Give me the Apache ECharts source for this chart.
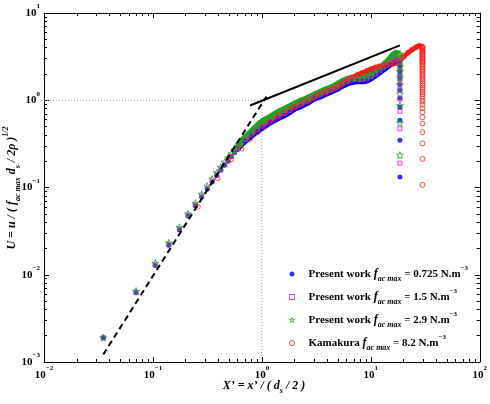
<!DOCTYPE html>
<html>
<head>
<meta charset="utf-8">
<script src="https://cdn.jsdelivr.net/npm/echarts@6/dist/echarts.min.js"></script>
<style>html,body{margin:0;padding:0;background:#fff}#main{width:490px;height:404px}</style>
</head>
<body>
<div id="main"></div>
<script>
// ---- data ----
const xEarly = [0.035,0.07,0.105,0.14,0.175,0.21,0.245,0.28,0.315,0.35,0.385,0.42,0.455,0.49,0.525,0.56,0.595];
const blueEarly = [0.0019,0.0062,0.0128,0.0218,0.0327,0.047,0.0617,0.078,0.096,0.1156,0.137,0.158,0.18,0.20,0.225,0.25,0.27];
const magentaEarly = [0.0019,0.0063,0.013,0.0222,0.0334,0.048,0.063,0.080,0.098,0.118,0.14,0.162,0.184,0.205,0.23,0.256,0.277];
const greenEarly = [0.0019,0.0065,0.0136,0.0232,0.035,0.050,0.066,0.084,0.104,0.125,0.148,0.171,0.196,0.22,0.245,0.27,0.295];

const xBand = [0.6,0.7,0.8,0.9,1.0,1.2,1.4,1.6,1.8,2.0,2.3,2.6,3.0,3.4,3.8,4.3,4.8,5.4,6.0,6.7,7.5,8.3,9.2,10,11,12,13,14,15,16,17,18];
const blueBand = [0.28,0.34,0.39,0.44,0.48,0.56,0.62,0.67,0.73,0.80,0.86,0.93,1.04,1.10,1.17,1.25,1.33,1.45,1.55,1.62,1.65,1.65,1.68,1.78,1.92,2.08,2.24,2.40,2.55,2.68,2.78,2.85];
const magentaBand = [0.29,0.355,0.41,0.46,0.51,0.59,0.66,0.71,0.77,0.84,0.91,0.98,1.09,1.16,1.23,1.31,1.40,1.53,1.63,1.70,1.72,1.72,1.76,1.86,2.0,2.17,2.35,2.54,2.72,2.88,3.0,3.05];
const greenBand = [0.30,0.37,0.43,0.50,0.56,0.64,0.72,0.78,0.84,0.90,0.98,1.04,1.14,1.22,1.30,1.38,1.48,1.62,1.72,1.78,1.80,1.80,1.85,1.95,2.10,2.28,2.48,2.72,2.98,3.25,3.45,3.35];

const dropX = 18.5;
const blueDrop = [0.132,0.348,0.59,0.83,1.06,1.29,1.52,1.75,1.98,2.21,2.44,2.67];
const magentaDrop = [0.19,0.47,0.75,1.03,1.31,1.59,1.87,2.15,2.43,2.71,2.99];
const greenDrop = [0.235,0.55,0.87,1.18,1.5,1.82,2.14,2.46,2.78,3.1,3.4];

const redX = [0.258,0.393,0.52,0.65,0.78,0.91,1.04,1.17,1.3,1.45,1.6,1.75,1.9,2.05,2.2,2.4,2.6,2.8,3.0,3.25,3.5,3.75,4.0,4.3,4.6,4.9,5.2];
const redY = [0.060,0.128,0.21,0.28,0.36,0.43,0.50,0.56,0.61,0.67,0.72,0.77,0.81,0.85,0.89,0.94,0.98,1.03,1.08,1.14,1.19,1.23,1.27,1.32,1.37,1.42,1.48];
const redBandX = [5.5,6.0,6.7,7.5,8.3,9.2,10,11,12,13,14,15,16,17,18,20,22,24,26,27.9,29.3];
const redBandY = [1.55,1.68,1.82,1.95,2.06,2.17,2.27,2.37,2.45,2.5,2.54,2.57,2.62,2.68,2.8,3.15,3.5,3.8,4.05,4.2,4.1];
const redDropX = 29.8;
const redDrop = [0.107,0.213,0.32,0.43,0.54,0.64,0.73,0.81,0.89,0.97,1.04,1.11,1.18,1.25,1.32,1.39,1.47,1.55,1.64,1.72,1.8,1.9,2.0,2.1,2.2,2.3,2.4,2.5,2.6,2.7,2.8,2.9,3.0,3.1,3.2,3.3,3.4,3.5,3.6,3.7,3.8,3.9,4.0,4.1];

const fitSteepX = [0.035, 1.1];
const fitSteepY = [0.00122, 1.1];
const fitShallowX = [0.78, 18.5];
const fitShallowY = [0.87, 4.25];
const refHX = [0.01, 1];
const refHY = [1, 1];
const refVX = [1, 1];
const refVY = [0.001, 1];

const legendKeys = ['s1','s2','s3','s4'];
const legendLabels = ['Present work','Present work','Present work','Kamakura'];
const legendValues = ['0.725','1.5','2.9','8.2'];

const xMajor = [0.01,0.1,1,10,100];
const yMajor = [0.001,0.01,0.1,1,10];
const minorMult = [2,3,4,5,6,7,8,9];

// ---- helpers ----
const zip = (xs, ys) => xs.map((x, i) => [x, ys[i]]);
const col = (x, ys) => ys.map(y => [x, y]);
const minorsOf = majors => {
  const out = [];
  majors.slice(0, -1).forEach(d => minorMult.forEach(m => out.push(+(d * m).toPrecision(6))));
  return out;
};
const SERIF = 'Liberation Serif';
const expLabel = v => {
  const e = Math.round(Math.log10(v));
  return '{b|10}{e|' + (e < 0 ? '\u2212' + (-e) : e) + '}';
};
const labelRich = {
  b: {fontFamily: SERIF, fontWeight: 'bold', fontSize: 11, lineHeight: 20, color: '#000'},
  e: {fontFamily: SERIF, fontWeight: 'bold', fontSize: 7, lineHeight: 8, verticalAlign: 'top', color: '#000'}
};
const starPath = 'path://M10 0 L12.35 6.76 L19.51 6.91 L13.80 11.24 L15.88 18.09 L10 14 L4.12 18.09 L6.20 11.24 L0.49 6.91 L7.65 6.76 Z';

const BLUE = '#0000ee', MAG = '#ff00ff', GREEN = '#1ea51e', RED = '#ff1a1a';

function xAx(pos, minor, labels) {
  return {
    type: 'log', logBase: 10, min: 0.01, max: 100, position: pos, gridIndex: 0,
    axisLine: {show: !minor, onZero: false, lineStyle: {color: '#000', width: 1}},
    axisTick: minor ? {show: true, inside: true, length: 3, customValues: minorsOf(xMajor), lineStyle: {color: '#000'}}
                    : {show: true, inside: true, length: 5, lineStyle: {color: '#000'}},
    axisLabel: labels ? {show: true, formatter: expLabel, rich: labelRich, margin: 3} : {show: false},
    splitLine: {show: false}, minorTick: {show: false}
  };
}
function yAx(pos, minor, labels) {
  return {
    type: 'log', logBase: 10, min: 0.001, max: 10, position: pos, gridIndex: 0,
    axisLine: {show: !minor, onZero: false, lineStyle: {color: '#000', width: 1}},
    axisTick: minor ? {show: true, inside: true, length: 3, customValues: minorsOf(yMajor), lineStyle: {color: '#000'}}
                    : {show: true, inside: true, length: 5, lineStyle: {color: '#000'}},
    axisLabel: labels ? {show: true, formatter: expLabel, rich: labelRich, margin: 4} : {show: false},
    splitLine: {show: false}, minorTick: {show: false}
  };
}

const chart = echarts.init(document.getElementById('main'), null, {renderer: 'canvas'});

const bandLine = (data, color, w) => ({
  type: 'line', data, xAxisIndex: 0, yAxisIndex: 0, smooth: 0.3, showSymbol: false, symbol: 'none',
  lineStyle: {color, width: w}, silent: true, z: 2
});
const refLine = (xs, ys, style, z) => ({
  type: 'line', data: zip(xs, ys), xAxisIndex: 0, yAxisIndex: 0, showSymbol: false, symbol: 'none',
  lineStyle: style, silent: true, z
});

const option = {
  animation: false,
  backgroundColor: '#fff',
  grid: {left: 44, right: 8, top: 13, bottom: 42, containLabel: false},
  xAxis: [xAx('bottom', false, true), xAx('bottom', true, false), xAx('top', false, false), xAx('top', true, false)],
  yAxis: [yAx('left', false, true), yAx('left', true, false), yAx('right', false, false), yAx('right', true, false)],
  legend: {
    orient: 'vertical', left: 284, top: 260, itemWidth: 5, itemHeight: 5, itemGap: 5,
    data: [
      {name: 's1', icon: 'circle', itemStyle: {color: BLUE, borderWidth: 0}},
      {name: 's2', icon: 'rect', itemStyle: {color: 'rgba(0,0,0,0)', borderColor: MAG, borderWidth: 1}},
      {name: 's3', icon: starPath, itemStyle: {color: 'rgba(0,0,0,0)', borderColor: GREEN, borderWidth: 1}},
      {name: 's4', icon: 'circle', itemStyle: {color: 'rgba(0,0,0,0)', borderColor: RED, borderWidth: 1}}
    ],
    formatter: name => {
      const i = legendKeys.indexOf(name);
      return '{t0|' + legendLabels[i] + ' }{f|f}{s|ac max}{t| = ' + legendValues[i] + ' N.m}{p|\u22123}';
    },
    textStyle: {
      color: '#000',
      rich: {
        t0: {fontFamily: SERIF, fontWeight: 'bold', fontSize: 11, lineHeight: 18, color: '#000', padding: [0, 0, 0, 9]},
        t: {fontFamily: SERIF, fontWeight: 'bold', fontSize: 11, lineHeight: 18, color: '#000'},
        f: {fontFamily: SERIF, fontWeight: 'bold', fontStyle: 'italic', fontSize: 12, lineHeight: 18, color: '#000'},
        s: {fontFamily: SERIF, fontWeight: 'bold', fontStyle: 'italic', fontSize: 8, lineHeight: 8, verticalAlign: 'bottom', color: '#000'},
        p: {fontFamily: SERIF, fontWeight: 'bold', fontSize: 7, lineHeight: 8, verticalAlign: 'top', color: '#000'}
      }
    }
  },
  series: [
    refLine(refHX, refHY, {color: '#999', width: 1, type: [1, 2]}, 1),
    refLine(refVX, refVY, {color: '#999', width: 1, type: [1, 2]}, 1),

    bandLine(zip(xBand, blueBand), BLUE, 6),
    {name: 's1', type: 'scatter', xAxisIndex: 0, yAxisIndex: 0, symbol: 'circle', symbolSize: 5,
     itemStyle: {color: BLUE}, z: 3,
     data: zip(xEarly, blueEarly).concat(zip(xBand, blueBand), col(dropX, blueDrop))},

    bandLine(zip(xBand, magentaBand), MAG, 4),
    {name: 's2', type: 'scatter', xAxisIndex: 0, yAxisIndex: 0, symbol: 'rect', symbolSize: 4,
     itemStyle: {color: 'rgba(0,0,0,0)', borderColor: MAG, borderWidth: 1}, z: 4,
     data: zip(xEarly, magentaEarly).concat(zip(xBand, magentaBand), col(dropX, magentaDrop))},

    bandLine(zip(xBand, greenBand), GREEN, 7),
    {name: 's3', type: 'scatter', xAxisIndex: 0, yAxisIndex: 0, symbol: starPath, symbolSize: 7,
     itemStyle: {color: 'rgba(0,0,0,0)', borderColor: GREEN, borderWidth: 1}, z: 5,
     data: zip(xEarly, greenEarly).concat(zip(xBand, greenBand), col(dropX, greenDrop))},

    bandLine(zip(redBandX, redBandY), RED, 4.5),
    {name: 's4', type: 'scatter', xAxisIndex: 0, yAxisIndex: 0, symbol: 'circle', symbolSize: 5,
     itemStyle: {color: 'rgba(0,0,0,0)', borderColor: RED, borderWidth: 1}, z: 6,
     data: zip(redX, redY).concat(zip(redBandX, redBandY), col(redDropX, redDrop))},

    refLine(fitSteepX, fitSteepY, {color: '#000', width: 2, type: [6, 4]}, 8),
    refLine(fitShallowX, fitShallowY, {color: '#000', width: 2}, 8)
  ],
  graphic: [
    {
      type: 'text', x: 12, y: 188, rotation: Math.PI / 2, z: 10,
      style: {
        text: '{i|U = u / ( f}{s|ac max}{i| d}{s|s}{i| / 2\u03c1 )}{p|1/2}',
        align: 'center', verticalAlign: 'middle',
        rich: {
          i: {fontFamily: SERIF, fontStyle: 'italic', fontWeight: 'bold', fontSize: 12, lineHeight: 20, fill: '#000'},
          s: {fontFamily: SERIF, fontStyle: 'italic', fontWeight: 'bold', fontSize: 8, lineHeight: 9, verticalAlign: 'bottom', fill: '#000'},
          p: {fontFamily: SERIF, fontStyle: 'italic', fontWeight: 'bold', fontSize: 8, lineHeight: 9, verticalAlign: 'top', fill: '#000'}
        }
      }
    },
    {
      type: 'text', x: 264, y: 386, z: 10,
      style: {
        text: '{i|X\u2019 = x\u2019 / ( d}{s|s}{i| / 2 )}',
        align: 'center', verticalAlign: 'middle',
        rich: {
          i: {fontFamily: SERIF, fontStyle: 'italic', fontWeight: 'bold', fontSize: 12, lineHeight: 18, fill: '#000'},
          s: {fontFamily: SERIF, fontStyle: 'italic', fontWeight: 'bold', fontSize: 8, lineHeight: 8, verticalAlign: 'bottom', fill: '#000'}
        }
      }
    }
  ]
};
chart.setOption(option);
</script>
</body>
</html>
